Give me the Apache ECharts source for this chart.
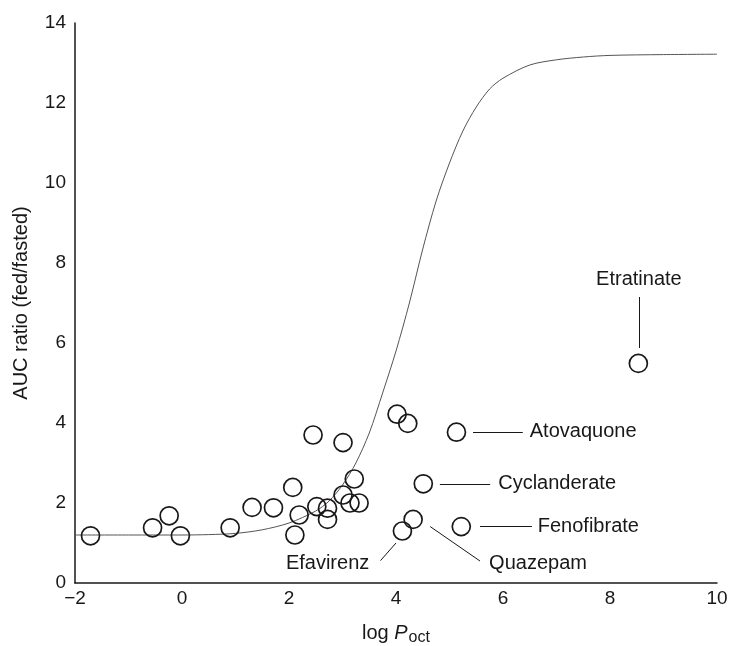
<!DOCTYPE html>
<html>
<head>
<meta charset="utf-8">
<script src="https://cdn.jsdelivr.net/npm/echarts@6/dist/echarts.min.js"></script>
<style>
  html, body { margin: 0; padding: 0; background: #fff; }
  #chart { width: 732px; height: 646px; }
</style>
</head>
<body>
<div id="chart"></div>
<script>
// Observed drugs: log P(oct) vs AUC ratio (fed/fasted)
const logP = [-1.71, -0.55, -0.24, -0.03, 0.90, 1.31, 1.71, 2.07, 2.11, 2.19, 2.45, 2.52, 2.72, 2.72,
  3.01, 3.01, 3.14, 3.22, 3.31, 4.02, 4.22, 5.13, 4.51, 4.12, 4.32, 5.22, 8.53];
const aucRatio = [1.18, 1.38, 1.68, 1.18, 1.38, 1.89, 1.88, 2.39, 1.20, 1.70, 3.70, 1.91, 1.87, 1.59,
  3.51, 2.20, 2.00, 2.60, 2.00, 4.22, 3.99, 3.77, 2.48, 1.30, 1.59, 1.41, 5.49];

// Fitted sigmoid curve, sampled along its length
const curveX = [-2, -1, 0, 0.5, 1, 1.5, 2, 2.5, 2.75, 3, 3.25, 3.5, 3.75, 4, 4.25, 4.5, 4.75,
  5, 5.25, 5.5, 5.75, 6, 6.5, 7, 7.5, 8, 9, 10];
const curveY = [1.20, 1.20, 1.20, 1.21, 1.24, 1.33, 1.50, 1.80, 2.05, 2.45, 3.00, 3.75, 4.75, 5.80,
  7.00, 8.35, 9.55, 10.50, 11.30, 11.90, 12.35, 12.62, 12.95, 13.08, 13.15, 13.19, 13.21, 13.22];

// Named drugs: label text, leader line ends (data units) and where the text sits
const drugNames = ['Etratinate', 'Atovaquone', 'Cyclanderate', 'Fenofibrate', 'Quazepam', 'Efavirenz'];
const leaderFrom = [[8.54, 5.875], [5.44, 3.78], [4.82, 2.48], [5.57, 1.41], [4.64, 1.41], [4.00, 1.00]];
const leaderTo = [[8.54, 7.15], [6.37, 3.78], [5.76, 2.48], [6.54, 1.41], [5.57, 0.55], [3.71, 0.56]];
const labelAt = [[8.54, 7.58], [6.50, 3.78], [5.91, 2.48], [6.65, 1.41], [5.74, 0.50], [3.50, 0.50]];
const labelSide = ['inside', 'right', 'right', 'right', 'right', 'left'];

const xTicks = { min: -2, max: 10, step: 2 };
const yTicks = { min: 0, max: 14, step: 2 };

const FONT = '"Liberation Sans", Arial, Helvetica, sans-serif';
const INK = '#1a1718';

const chart = echarts.init(document.getElementById('chart'), null, { renderer: 'canvas' });

const option = {
  animation: false,
  backgroundColor: '#fff',
  textStyle: { fontFamily: FONT, color: INK },
  grid: { left: 75, right: 15, top: 23, bottom: 63, containLabel: false, outerBoundsMode: 'none' },
  xAxis: {
    type: 'value',
    min: xTicks.min, max: xTicks.max, interval: xTicks.step,
    splitLine: { show: false },
    axisTick: { show: false },
    axisLine: { onZero: false, lineStyle: { color: INK, width: 1.5 } },
    axisLabel: {
      color: INK, fontSize: 19, fontFamily: FONT, margin: 6,
      formatter: v => String(v).replace('-', '\u2212')
    },
    name: '{n|log }{p|P}{s|oct}',
    nameLocation: 'middle',
    nameGap: 37,
    nameTextStyle: {
      rich: {
        n: { fontSize: 20, fontFamily: FONT, color: INK },
        p: { fontSize: 20, fontFamily: FONT, color: INK, fontStyle: 'italic' },
        s: { fontSize: 16, fontFamily: FONT, color: INK, padding: [10, 0, 0, 1] }
      }
    }
  },
  yAxis: {
    type: 'value',
    min: yTicks.min, max: yTicks.max, interval: yTicks.step,
    splitLine: { show: false },
    axisTick: { show: false },
    axisLine: { onZero: false, lineStyle: { color: INK, width: 1.5 } },
    axisLabel: { color: INK, fontSize: 19, fontFamily: FONT, margin: 9 },
    name: 'AUC ratio (fed/fasted)',
    nameLocation: 'middle',
    nameGap: 44,
    nameTextStyle: { fontSize: 20, fontFamily: FONT, color: INK }
  },
  series: [
    {
      name: 'fit',
      type: 'line',
      data: curveX.map((x, i) => [x, curveY[i]]),
      smooth: 0.3,
      showSymbol: false,
      symbol: 'none',
      lineStyle: { color: '#555', width: 1 },
      z: 1
    },
    {
      name: 'drugs',
      type: 'scatter',
      data: logP.map((x, i) => [x, aucRatio[i]]),
      symbol: 'circle',
      symbolSize: 18,
      itemStyle: { color: 'rgba(0,0,0,0)', borderColor: INK, borderWidth: 1.7, opacity: 1 },
      z: 3
    },
    {
      name: 'leaders',
      type: 'lines',
      coordinateSystem: 'cartesian2d',
      data: leaderFrom.map((p, i) => ({ coords: [p, leaderTo[i]] })),
      lineStyle: { color: INK, width: 1, opacity: 1 },
      symbol: 'none',
      z: 2
    },
    {
      name: 'names',
      type: 'scatter',
      symbolSize: 0,
      itemStyle: { opacity: 1 },
      data: labelAt.map((p, i) => ({
        value: p,
        name: drugNames[i],
        label: { position: labelSide[i] }
      })),
      label: {
        show: true,
        formatter: '{b}',
        distance: 0,
        fontSize: 20,
        fontFamily: FONT,
        color: INK
      },
      silent: true,
      z: 4
    }
  ]
};

chart.setOption(option);
</script>
</body>
</html>
